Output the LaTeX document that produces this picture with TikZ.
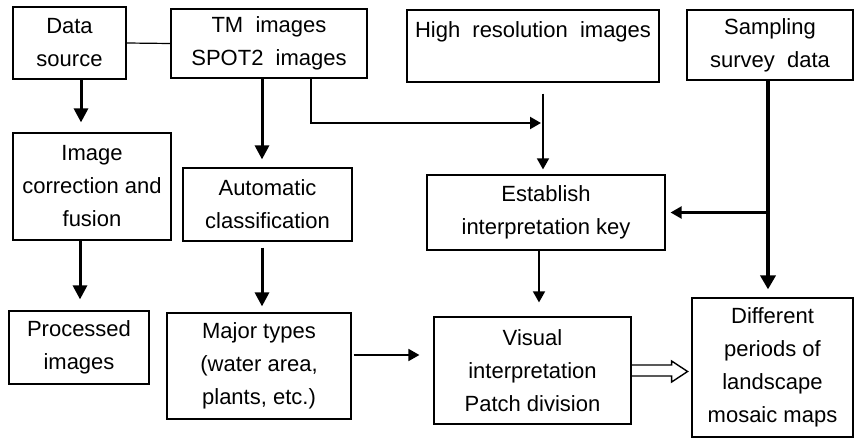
\documentclass[tikz,border=0pt]{standalone}
\usepackage{fontspec}
\setmainfont{Liberation Sans}
\usetikzlibrary{arrows.meta}
\begin{document}
\begin{tikzpicture}[x=1pt,y=-1pt,
  box/.style={draw, line width=1.2pt, inner sep=0pt, align=center,
    font=\fontsize{22}{33}\selectfont},
  heavy/.style={line width=3pt, -{Triangle[length=14pt,width=14pt]}},
  light/.style={line width=1.8pt, -{Triangle[length=11pt,width=12pt]}},
  plain/.style={line width=1.2pt}]
\useasboundingbox (0,0) rectangle (855,439);

% source boxes
\node[box, minimum width=113pt, minimum height=72pt] (src) at (69.5,43) {Data\\source};
\node[box, minimum width=196pt, minimum height=69pt] (tm) at (269,43.5) {TM\ \ images\\SPOT2\ \ images};
\node[box, minimum width=252pt, minimum height=72pt] (hi) at (533,46) {High\ \ resolution\ \ images\\\mbox{}};
\node[box, minimum width=166pt, minimum height=70pt] (samp) at (770,45) {Sampling\\survey\ \ data};

% processing steps
\node[box, minimum width=158pt, minimum height=107pt] (corr) at (92,186.5) {Image\\correction and\\fusion};
\node[box, minimum width=169pt, minimum height=73pt] (auto) at (267.5,204.5) {Automatic\\classification};
\node[box, minimum width=238pt, minimum height=75pt] (key) at (546,212.5) {Establish\\interpretation key};

% results
\node[box, minimum width=140pt, minimum height=73pt] (proc) at (79,347.5) {Processed\\images};
\node[box, minimum width=184pt, minimum height=106pt] (major) at (259,366) {Major types\\(water area,\\plants, etc.)};
\node[box, minimum width=197pt, minimum height=107pt] (vis) at (532.5,370.5) {Visual\\interpretation\\Patch division};
\node[box, minimum width=161pt, minimum height=139pt] (diff) at (772.5,367.5) {Different\\periods of\\landscape\\mosaic maps};

% helper points for the connectors
\coordinate (srcA) at ([xshift=11.5pt]src.south);
\coordinate (tmA) at ([xshift=-7pt]tm.south);
\coordinate (tmB) at ([xshift=42pt]tm.south);
\coordinate (hiA) at ([xshift=10pt,yshift=-11pt]hi.south);
\coordinate (join) at (hiA |- 0,123);
\coordinate (corrA) at ([xshift=-12pt]corr.south);
\coordinate (autoA) at ([xshift=-5.5pt,yshift=-6pt]auto.south);
\coordinate (keyA) at ([xshift=-7pt]key.south);
\coordinate (sampA) at ([xshift=-2pt]samp.south);
\coordinate (sampB) at (sampA |- key.east);

% connectors
\draw[plain] (src.east) -- (tm.west);
\draw[heavy, shorten >=10pt] (srcA) -- (srcA |- corr.north);
\draw[heavy, shorten >=8pt] (tmA) -- (tmA |- auto.north);
\draw[light, line width=2.2pt] (tmB) |- ([xshift=-2pt]join);
\draw[light, line width=1.6pt, shorten >=5pt] (hiA) -- (hiA |- key.north);
\draw[heavy, shorten >=11pt] (corrA) -- (corrA |- proc.north);
\draw[heavy, shorten >=6pt] (autoA) -- (autoA |- major.north);
\draw[light, line width=1.6pt, shorten >=14pt] (keyA) -- (keyA |- vis.north);
\draw[light, line width=1.8pt, shorten <=2pt, shorten >=14pt] (major.east |- 0,355) -- (vis.west |- 0,355);
\draw[line width=3.5pt, -{Triangle[length=14pt,width=15pt]}, shorten >=8pt] (sampA) -- (sampA |- diff.north);
\draw[light, line width=2.2pt, shorten >=5pt] (sampB) -- (key.east);

% hollow arrow into the map box
\draw[line width=1.4pt, line join=miter] (vis.east) ++(0,-5.5) -- ++(40,0) -- ++(0,-4)
  -- ++(16,10.5) -- ++(-16,10.5) -- ++(0,-6) -- ++(-40,0);
\end{tikzpicture}
\end{document}
